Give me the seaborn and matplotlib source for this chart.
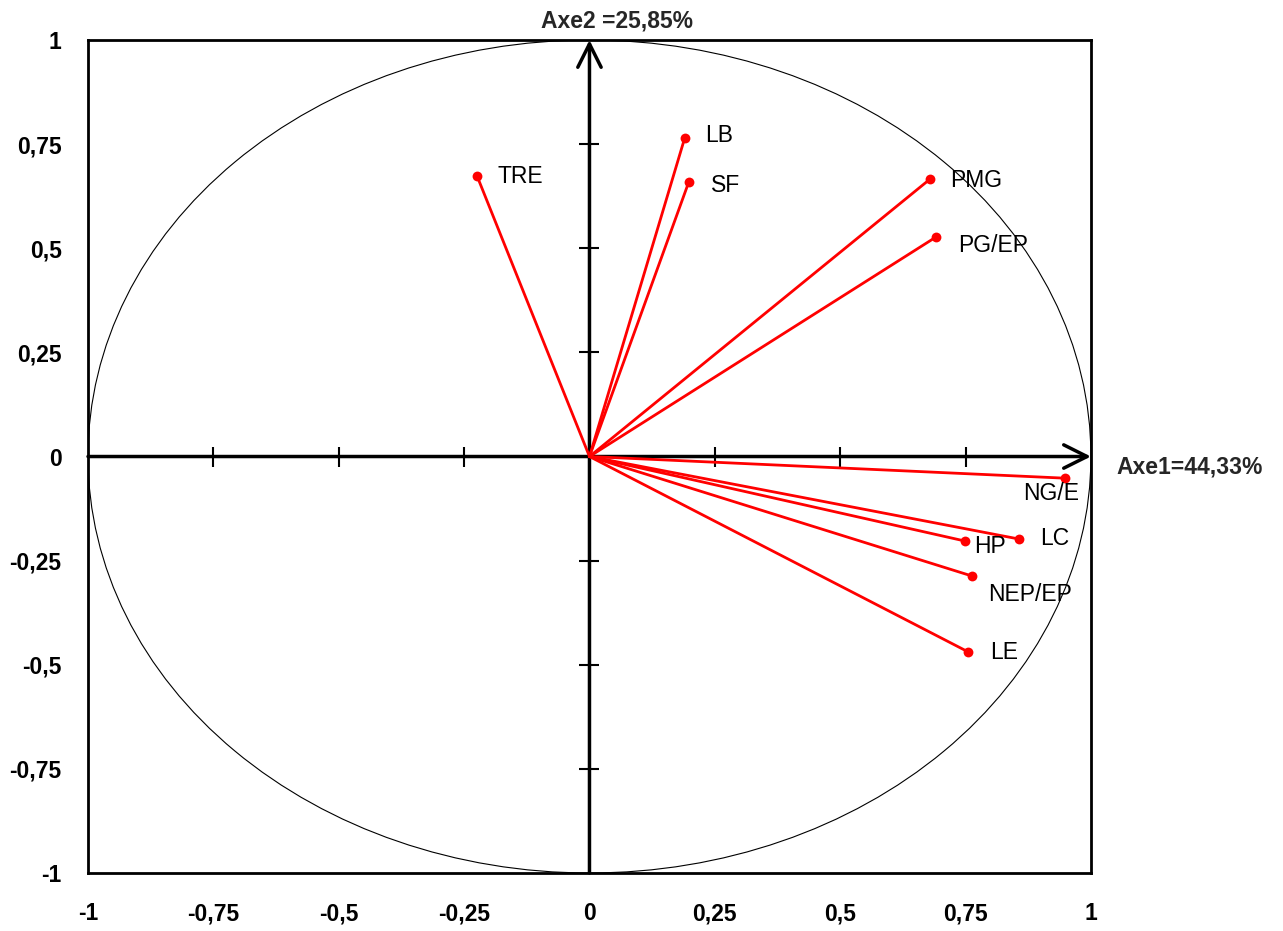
import matplotlib
matplotlib.use("Agg")
import matplotlib.pyplot as plt
from matplotlib.patches import Ellipse
import seaborn as sns
import pandas as pd
import numpy as np

# Correlation circle: variable coordinates on the first two axes
variables = ["TRE", "LB", "SF", "PMG", "PG/EP", "NG/E", "LC", "HP", "NEP/EP", "LE"]
axe1 = [-0.224, 0.190, 0.198, 0.679, 0.691, 0.948, 0.856, 0.749, 0.763, 0.755]
axe2 = [0.673, 0.765, 0.659, 0.666, 0.527, -0.052, -0.198, -0.203, -0.287, -0.469]

# label offsets in pixels relative to each point
label_dx = [20, 20, 22, 20, 22, -42, 21, 9, 16, 22]
label_dy = [0, 2, -3, -1, -8, -15, 0, -5, -18, -1]

tick_vals = [-1, -0.75, -0.5, -0.25, 0, 0.25, 0.5, 0.75, 1]
tick_labels = ["-1", "-0,75", "-0,5", "-0,25", "0", "0,25", "0,5", "0,75", "1"]
axe1_title = "Axe1=44,33%"
axe2_title = "Axe2 =25,85%"

sns.set_theme(style="white")
plt.rcParams["font.family"] = ["Liberation Sans", "DejaVu Sans"]

fig = plt.figure(figsize=(12.83, 9.31), dpi=100)
ax = fig.add_axes([0.0686, 0.0623, 0.7817, 0.8947])
ax.set_xlim(-1, 1)
ax.set_ylim(-1, 1)

# unit circle
ax.add_patch(Ellipse((0, 0), 2, 2, fill=False, edgecolor="black", linewidth=0.8, zorder=1))

# central axes with open arrow heads
arrow_kw = dict(arrowstyle="->,head_length=1.4,head_width=0.7", color="black", lw=2.5,
                shrinkA=0, shrinkB=0)
ax.annotate("", xy=(1, 0), xytext=(-1, 0), arrowprops=arrow_kw, zorder=2)
ax.annotate("", xy=(0, 1), xytext=(0, -1), arrowprops=arrow_kw, zorder=2)

# cross tick marks on the central axes
inner = [t for t in tick_vals if t not in (-1, 0, 1)]
ax.plot(inner, [0] * len(inner), linestyle="none", marker="|", markersize=14,
        markeredgewidth=1.5, color="black", zorder=2)
ax.plot([0] * len(inner), inner, linestyle="none", marker="_", markersize=14,
        markeredgewidth=1.5, color="black", zorder=2)

# vectors from the origin
for x, y in zip(axe1, axe2):
    ax.plot([0, x], [0, y], color="red", lw=2, zorder=3)

df = pd.DataFrame({"axe1": axe1, "axe2": axe2, "var": variables})
sns.scatterplot(data=df, x="axe1", y="axe2", color="red", s=50, edgecolor="red",
                linewidth=0, ax=ax, zorder=4, legend=False)

for name, x, y, dx, dy in zip(variables, axe1, axe2, label_dx, label_dy):
    ax.annotate(name, xy=(x, y), xytext=(dx, dy), textcoords="offset pixels",
                ha="left", va="center", fontsize=16.5, color="black", zorder=5)

ax.text(0.055, 1.045, axe2_title, ha="center", va="center", fontsize=16.5,
        fontweight="bold", transform=ax.transData, clip_on=False)
ax.text(1.05, -0.025, axe1_title, ha="left", va="center", fontsize=16.5,
        fontweight="bold", clip_on=False)

ax.set_xticks(tick_vals)
ax.set_xticklabels(tick_labels)
ax.set_yticks(tick_vals)
ax.set_yticklabels(tick_labels)
ax.tick_params(axis="both", length=0, labelsize=16.5, colors="black")
ax.tick_params(axis="x", pad=21)
ax.tick_params(axis="y", pad=19)
for lab in ax.get_xticklabels() + ax.get_yticklabels():
    lab.set_fontweight("bold")
ax.set_xlabel("")
ax.set_ylabel("")

for sp in ax.spines.values():
    sp.set_visible(True)
    sp.set_color("black")
    sp.set_linewidth(2)

fig.savefig("out.png", dpi=100, facecolor="white")
